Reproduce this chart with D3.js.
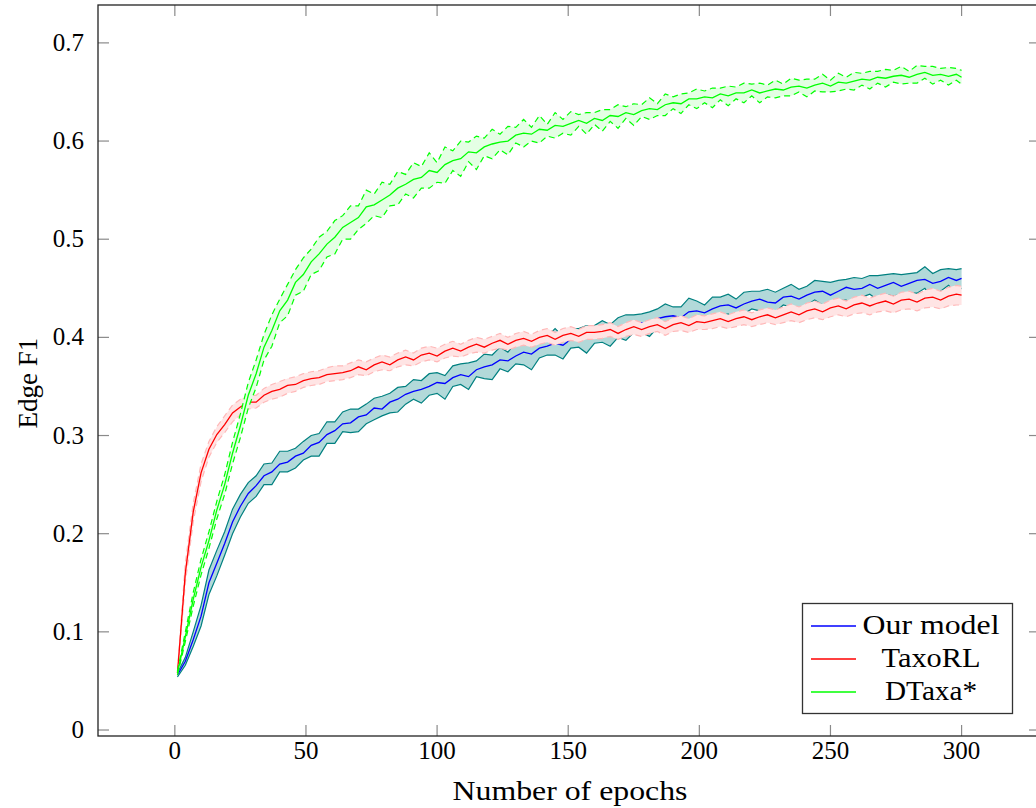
<!DOCTYPE html>
<html>
<head>
<meta charset="utf-8">
<script src="https://cdn.jsdelivr.net/npm/d3@7"></script>
<style>
  body { margin: 0; background: #fff; }
  svg text { font-family: "Liberation Serif", "Times New Roman", serif; fill: #000; }
</style>
</head>
<body>
<svg id="chart" width="1036" height="808"></svg>
<script>
// epochs sampled every 3 steps
const epochs = [
  1, 4, 7, 10, 13, 16, 19, 22, 25, 28,
  31, 34, 37, 40, 43, 46, 49, 52, 55, 58,
  61, 64, 67, 70, 73, 76, 79, 82, 85, 88,
  91, 94, 97, 100, 103, 106, 109, 112, 115, 118,
  121, 124, 127, 130, 133, 136, 139, 142, 145, 148,
  151, 154, 157, 160, 163, 166, 169, 172, 175, 178,
  181, 184, 187, 190, 193, 196, 199, 202, 205, 208,
  211, 214, 217, 220, 223, 226, 229, 232, 235, 238,
  241, 244, 247, 250, 253, 256, 259, 262, 265, 268,
  271, 274, 277, 280, 283, 286, 289, 292, 295, 298,
  300];

// Our model
const ourMean = [
  .056,.070,.092,.116,.150,.170,.190,.212,.228,.241,
  .249,.259,.263,.271,.273,.279,.282,.290,.293,.301,
  .305,.312,.313,.319,.321,.328,.327,.334,.337,.342,
  .345,.347,.350,.354,.353,.359,.362,.360,.367,.370,
  .372,.377,.376,.381,.385,.383,.389,.391,.394,.392,
  .398,.401,.399,.402,.405,.404,.409,.409,.413,.415,
  .414,.419,.421,.422,.420,.426,.427,.425,.429,.432,
  .433,.430,.434,.437,.439,.436,.435,.441,.442,.439,
  .443,.446,.447,.443,.447,.451,.449,.450,.454,.450,
  .453,.456,.452,.455,.458,.459,.455,.457,.461,.458,
  .460];
const ourLow = [
  .054,.066,.085,.106,.138,.157,.178,.200,.217,.231,
  .238,.250,.250,.263,.263,.267,.275,.279,.279,.292,
  .292,.304,.303,.304,.312,.316,.320,.323,.324,.332,
  .337,.333,.341,.343,.337,.350,.352,.347,.360,.358,
  .357,.368,.365,.373,.372,.367,.379,.382,.382,.378,
  .389,.390,.384,.394,.395,.391,.400,.397,.405,.405,
  .401,.410,.413,.408,.410,.417,.415,.410,.421,.422,
  .424,.417,.424,.429,.427,.421,.426,.433,.431,.426,
  .433,.438,.433,.432,.438,.438,.433,.441,.444,.438,
  .444,.442,.444,.445,.445,.450,.439,.447,.453,.446,
  .450];
const ourHigh = [
  .058,.074,.100,.127,.163,.183,.202,.225,.240,.252,
  .259,.271,.272,.284,.284,.287,.294,.300,.302,.314,
  .314,.324,.327,.327,.332,.338,.340,.343,.349,.350,
  .357,.356,.363,.364,.361,.371,.373,.374,.376,.383,
  .382,.390,.385,.395,.396,.391,.401,.401,.409,.401,
  .409,.409,.412,.412,.417,.413,.420,.423,.423,.424,
  .426,.429,.434,.431,.431,.440,.437,.433,.441,.441,
  .444,.439,.446,.447,.447,.449,.446,.450,.454,.449,
  .452,.458,.457,.456,.458,.459,.461,.460,.463,.463,
  .464,.465,.464,.465,.466,.472,.465,.469,.470,.469,
  .470];

// TaxoRL
const taxoMean = [
  .058,.160,.222,.262,.286,.301,.311,.323,.329,.334,
  .334,.341,.345,.347,.351,.352,.356,.358,.359,.362,
  .363,.364,.366,.370,.367,.372,.375,.372,.377,.380,
  .377,.382,.384,.381,.386,.389,.386,.390,.393,.390,
  .394,.397,.393,.397,.399,.396,.400,.402,.398,.402,
  .404,.401,.405,.405,.406,.408,.404,.408,.411,.408,
  .411,.413,.409,.413,.415,.412,.416,.415,.417,.419,
  .416,.419,.421,.418,.421,.423,.420,.423,.426,.423,
  .427,.429,.426,.430,.432,.429,.433,.435,.432,.435,
  .437,.434,.438,.439,.436,.440,.441,.438,.442,.444,
  .443];
const taxoLow = [
  .056,.150,.212,.253,.278,.293,.303,.314,.321,.327,
  .328,.334,.337,.339,.343,.345,.349,.351,.352,.355,
  .356,.357,.359,.362,.361,.365,.367,.366,.370,.372,
  .371,.375,.377,.375,.379,.381,.380,.383,.385,.384,
  .387,.389,.387,.390,.392,.390,.393,.395,.392,.395,
  .397,.395,.398,.398,.399,.401,.398,.401,.403,.401,
  .404,.406,.402,.406,.407,.405,.408,.408,.409,.411,
  .409,.411,.413,.411,.413,.415,.413,.415,.417,.415,
  .418,.420,.418,.421,.423,.421,.424,.425,.423,.426,
  .427,.425,.428,.429,.427,.430,.431,.429,.432,.433,
  .433];
const taxoHigh = [
  .060,.170,.231,.271,.294,.309,.320,.331,.337,.341,
  .341,.348,.352,.355,.358,.360,.363,.365,.366,.369,
  .371,.371,.374,.377,.375,.379,.382,.380,.384,.387,
  .384,.389,.391,.389,.393,.396,.393,.397,.400,.398,
  .401,.404,.400,.404,.406,.403,.407,.409,.405,.409,
  .411,.408,.412,.412,.413,.415,.411,.415,.418,.415,
  .418,.420,.416,.420,.422,.419,.423,.422,.424,.426,
  .423,.426,.428,.425,.428,.430,.428,.431,.434,.431,
  .435,.437,.434,.438,.440,.437,.441,.443,.440,.443,
  .445,.442,.446,.447,.444,.448,.450,.447,.451,.453,
  .452];

// DTaxa*
const dtaxaMean = [
  .058,.095,.133,.166,.193,.224,.250,.282,.310,.341,
  .363,.390,.407,.427,.438,.456,.464,.477,.485,.495,
  .502,.512,.517,.522,.533,.535,.540,.545,.552,.556,
  .561,.563,.570,.568,.576,.580,.582,.589,.588,.594,
  .597,.599,.600,.606,.608,.607,.612,.611,.616,.615,
  .618,.621,.618,.623,.621,.626,.625,.629,.627,.631,
  .633,.632,.637,.639,.638,.643,.643,.645,.644,.648,
  .646,.649,.649,.652,.649,.651,.653,.652,.655,.656,
  .654,.657,.659,.656,.660,.659,.661,.663,.662,.665,
  .664,.666,.667,.665,.668,.670,.667,.668,.666,.668,
  .665];
const dtaxaLow = [
  .056,.090,.126,.158,.185,.215,.240,.271,.298,.328,
  .349,.377,.391,.415,.422,.443,.447,.464,.468,.482,
  .485,.500,.500,.510,.516,.524,.522,.534,.535,.546,
  .542,.552,.552,.558,.557,.570,.564,.579,.571,.585,
  .582,.591,.586,.598,.594,.600,.598,.605,.603,.608,
  .606,.615,.607,.617,.610,.620,.613,.623,.616,.625,
  .622,.626,.626,.633,.628,.637,.633,.639,.634,.642,
  .636,.643,.639,.646,.639,.645,.644,.646,.646,.650,
  .645,.651,.650,.650,.651,.653,.652,.657,.653,.659,
  .655,.660,.658,.659,.659,.664,.658,.662,.657,.662,
  .658];
const dtaxaHigh = [
  .060,.100,.140,.174,.202,.233,.260,.293,.322,.354,
  .377,.403,.423,.439,.454,.469,.481,.490,.502,.508,
  .519,.524,.534,.534,.550,.546,.558,.556,.569,.566,
  .578,.574,.588,.578,.594,.590,.600,.599,.605,.603,
  .612,.607,.615,.614,.622,.614,.626,.617,.629,.622,
  .630,.627,.629,.629,.632,.632,.637,.635,.638,.637,
  .644,.638,.648,.645,.648,.649,.653,.651,.654,.654,
  .656,.655,.659,.658,.659,.657,.662,.658,.664,.662,
  .663,.663,.668,.662,.669,.665,.670,.669,.671,.671,
  .673,.672,.676,.671,.677,.676,.676,.674,.675,.674,
  .672];

const xTicks = [0, 50, 100, 150, 200, 250, 300];
const yTicks = [0, 0.1, 0.2, 0.3, 0.4, 0.5, 0.6, 0.7];
const yTickLabels = ["0", "0.1", "0.2", "0.3", "0.4", "0.5", "0.6", "0.7"];
const legendLabels = ["Our model", "TaxoRL", "DTaxa*"];

// plot box (right edge runs past the picture)
const box = { left: 98, top: 5, right: 1040, bottom: 736 };

const svg = d3.select("#chart");

const x = d3.scaleLinear().domain([-29.3, 329.9]).range([box.left, box.right]);
const y = d3.scaleLinear().domain([-0.0061, 0.7386]).range([box.bottom, box.top]);

const series = [
  { mean: ourMean, low: ourLow, high: ourHigh, color: "#0000ff",
    fill: "rgb(178,217,217)", edge: "#008080", dash: null },
  { mean: taxoMean, low: taxoLow, high: taxoHigh, color: "#ff0000",
    fill: "rgb(255,228,228)", edge: "#ffb8b8", dash: "6,4" },
  { mean: dtaxaMean, low: dtaxaLow, high: dtaxaHigh, color: "#00ff00",
    fill: "rgb(228,255,228)", edge: "#00ff00", dash: "6,4" }
];

svg.append("clipPath").attr("id", "clip")
   .append("rect")
   .attr("x", box.left).attr("y", box.top)
   .attr("width", box.right - box.left).attr("height", box.bottom - box.top);

const plot = svg.append("g").attr("clip-path", "url(#clip)");

series.forEach(s => {
    const idx = d3.range(epochs.length);
    const band = d3.area()
        .x(i => x(epochs[i]))
        .y0(i => y(s.low[i]))
        .y1(i => y(s.high[i]));
    const line = arr => d3.line().x(i => x(epochs[i])).y(i => y(arr[i]));

    plot.append("path").datum(idx)
        .attr("d", band)
        .attr("fill", s.fill);

    [s.low, s.high].forEach(arr => {
        plot.append("path").datum(idx)
            .attr("d", line(arr))
            .attr("fill", "none")
            .attr("stroke", s.edge)
            .attr("stroke-width", 1.2)
            .attr("stroke-dasharray", s.dash);
    });

    plot.append("path").datum(idx)
        .attr("d", line(s.mean))
        .attr("fill", "none")
        .attr("stroke", s.color)
        .attr("stroke-width", 1.3);
});

// ticks on all four sides, pointing inward
const tickLen = 11;
const ticks = svg.append("g").attr("stroke", "#8a8a8a").attr("stroke-width", 1.2);
xTicks.forEach(t => {
    ticks.append("line").attr("x1", x(t)).attr("x2", x(t))
        .attr("y1", box.bottom).attr("y2", box.bottom - tickLen);
    ticks.append("line").attr("x1", x(t)).attr("x2", x(t))
        .attr("y1", box.top).attr("y2", box.top + tickLen);
});
yTicks.forEach(t => {
    ticks.append("line").attr("x1", box.left).attr("x2", box.left + tickLen)
        .attr("y1", y(t)).attr("y2", y(t));
    ticks.append("line").attr("x1", box.right).attr("x2", box.right - tickLen)
        .attr("y1", y(t)).attr("y2", y(t));
});

// frame
svg.append("rect")
   .attr("x", box.left).attr("y", box.top)
   .attr("width", box.right - box.left).attr("height", box.bottom - box.top)
   .attr("fill", "none").attr("stroke", "#222").attr("stroke-width", 1.3);

// tick labels
svg.selectAll(".xlab").data(xTicks).enter().append("text")
   .attr("class", "xlab")
   .attr("x", d => x(d)).attr("y", 759)
   .attr("text-anchor", "middle")
   .attr("font-size", 25)
   .text(d => d);

svg.selectAll(".ylab").data(yTicks).enter().append("text")
   .attr("class", "ylab")
   .attr("x", 84).attr("y", d => y(d) + 8)
   .attr("text-anchor", "end")
   .attr("font-size", 25)
   .text((d, i) => yTickLabels[i]);

// axis titles
svg.append("text")
   .attr("x", 570).attr("y", 800)
   .attr("text-anchor", "middle")
   .attr("font-size", 28)
   .attr("textLength", 235).attr("lengthAdjust", "spacingAndGlyphs")
   .text("Number of epochs");

svg.append("text")
   .attr("transform", "translate(37,383) rotate(-90)")
   .attr("text-anchor", "middle")
   .attr("font-size", 27)
   .text("Edge F1");

// legend
const legendWidths = [137, 99, 92];
const legend = svg.append("g");
legend.append("rect")
   .attr("x", 802.5).attr("y", 603.5).attr("width", 210).attr("height", 110)
   .attr("fill", "#fff").attr("stroke", "#333").attr("stroke-width", 1.3);
series.forEach((s, i) => {
    const ly = 626 + i * 33;
    legend.append("line")
        .attr("x1", 811).attr("x2", 856).attr("y1", ly).attr("y2", ly)
        .attr("stroke", s.color).attr("stroke-width", 1.3);
    legend.append("text")
        .attr("x", 931).attr("y", ly + 8)
        .attr("text-anchor", "middle")
        .attr("font-size", 27)
        .attr("textLength", legendWidths[i]).attr("lengthAdjust", "spacingAndGlyphs")
        .text(legendLabels[i]);
});
</script>
</body>
</html>
